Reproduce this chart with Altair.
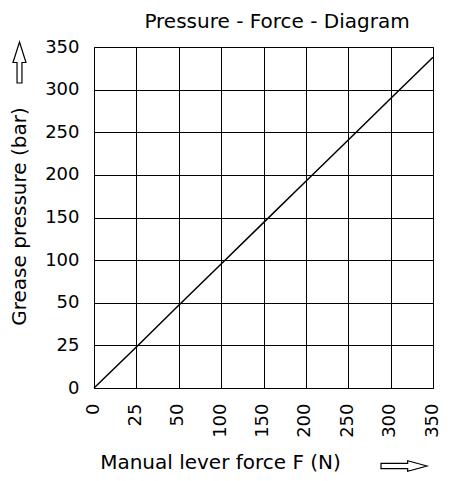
import altair as alt
import pandas as pd

# Data
force_ticks = [0, 25, 50, 100, 150, 200, 250, 300, 350]          # x axis tick values (N)
pressure_ticks = [0, 25, 50, 100, 150, 200, 250, 300, 350]       # y axis tick values (bar)
force = [0, 25, 50, 100, 150, 200, 250, 300, 350]                 # manual lever force F (N)
pressure = [0, 24, 48.5, 95.5, 144, 192.5, 241, 289.5, 338]       # grease pressure (bar)

W, H = 339, 341
FONT = "DejaVu Sans"
LEFT = 86

df = pd.DataFrame({"force": force, "pressure": pressure})
n = len(force_ticks) - 1
x_range = [W * i / n for i in range(n + 1)]
y_range = [H - H * i / n for i in range(n + 1)]
px0 = LEFT + 8  # page x of plot left edge

line = alt.Chart(df).mark_line(color="black", strokeWidth=1.5).encode(
    x=alt.X("force:Q",
            scale=alt.Scale(domain=force_ticks, range=x_range),
            axis=alt.Axis(values=force_ticks, title="Manual lever force F (N)",
                          labelAngle=270, labelPadding=15, labelOffset=-1,
                          ticks=False, domain=False,
                          labelFlush=False, labelOverlap=False,
                          titleX=220 - px0, titleY=80, titleAlign="center",
                          titleBaseline="alphabetic")),
    y=alt.Y("pressure:Q",
            scale=alt.Scale(domain=pressure_ticks, range=y_range),
            axis=alt.Axis(values=pressure_ticks, title="Grease pressure (bar)",
                          labelPadding=15, ticks=False, domain=False,
                          labelFlush=False, labelOverlap=False,
                          titleX=25 - px0, titleY=169, titleAngle=270,
                          titleAlign="center", titleBaseline="alphabetic")),
)

one = pd.DataFrame({"a": [0]})
up_arrow = alt.Chart(one).mark_point(
    shape="M0,-1 L0.317,0 L0.12,0 L0.12,1 L-0.12,1 L-0.12,0 L-0.317,0 Z",
    filled=False, color="black", strokeWidth=1.2, size=1681, opacity=1,
).encode(x=alt.value(19.5 - px0), y=alt.value(15.5))

right_arrow = alt.Chart(one).mark_point(
    shape="M1,0 L0.16,-0.23 L0.16,-0.116 L-1,-0.116 L-1,0.116 L0.16,0.116 L0.16,0.23 Z",
    filled=False, color="black", strokeWidth=1.2, size=2116, opacity=1,
).encode(x=alt.value(404 - px0), y=alt.value(419))

chart = alt.layer(line, up_arrow, right_arrow).properties(
    width=W, height=H,
    title=alt.TitleParams(text="Pressure - Force - Diagram", font=FONT, fontSize=20,
                          fontWeight="normal", color="black", anchor="middle",
                          frame="group", dx=277 - (px0 + W / 2), dy=15, offset=5,
                          baseline="alphabetic"),
    autosize=alt.AutoSizeParams(type="none"),
    padding={"left": LEFT, "top": 39, "right": 8, "bottom": 85},
    background="white",
).configure_view(stroke="black", strokeWidth=1).configure_axis(
    grid=True, gridColor="black", gridOpacity=1, gridWidth=1,
    labelFont=FONT, labelFontSize=18, labelColor="black",
    titleFont=FONT, titleFontSize=20, titleColor="black", titleFontWeight="normal",
)

chart.save("out.html", embed_options={"renderer": "svg", "actions": False})
